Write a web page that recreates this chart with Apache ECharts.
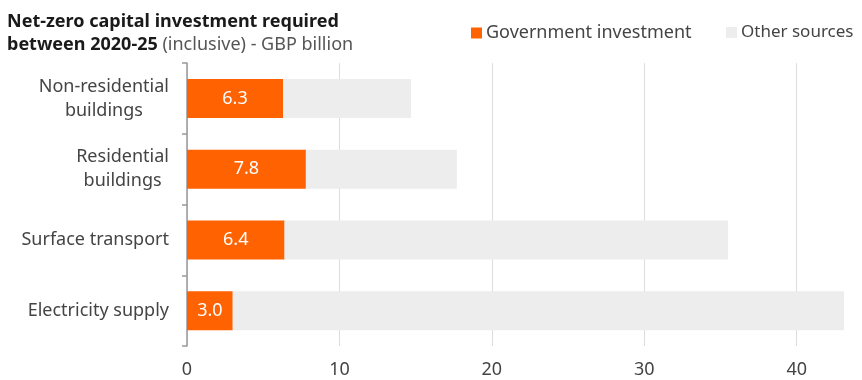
<!DOCTYPE html>
<html>
<head>
<meta charset="utf-8">
<script src="https://cdn.jsdelivr.net/npm/echarts@6/dist/echarts.min.js"></script>
<style>html,body{margin:0;padding:0;background:#fff}#c{width:862px;height:380px}</style>
</head>
<body>
<div id="c"></div>
<script>
const categories = ['Non-residential\nbuildings', 'Residential\nbuildings', 'Surface transport', 'Electricity supply'];
const governmentInvestment = [6.3, 7.8, 6.4, 3.0];
const otherSources = [8.4, 9.9, 29.1, 40.1];
const xTicks = [0, 10, 20, 30, 40];
const seriesNames = ['Government investment', 'Other sources'];

const FONT = '"Noto Sans", sans-serif';
function legendAt(left, name, size) {
  return {
    left: left, top: 19, width: 300, data: [name],
    icon: 'rect', itemWidth: 11, itemHeight: 11,
    textStyle: {fontFamily: FONT, fontSize: size, color: '#444', padding: [0, 0, 0, -1]}
  };
}
const chart = echarts.init(document.getElementById('c'), null, {renderer: 'canvas'});
chart.setOption({
  animation: false,
  textStyle: {fontFamily: FONT},
  title: {
    left: 2, top: 5,
    text: '{b|Net-zero capital investment required}\n{b|between 2020-25} {r|(inclusive) - GBP billion}',
    textStyle: {
      rich: {
        b: {fontFamily: FONT, fontWeight: 'bold', fontSize: 18, color: '#1a1a1a', lineHeight: 23},
        r: {fontFamily: FONT, fontWeight: 'normal', fontSize: 18, color: '#555', lineHeight: 23}
      }
    }
  },
  legend: [
    legendAt(466, seriesNames[0], 18),
    legendAt(721, seriesNames[1], 17)
  ],
  grid: {left: 187, right: 18, top: 63, bottom: 34, containLabel: false},
  xAxis: {
    type: 'value', min: 0, max: 43.1,
    axisLine: {show: false}, axisTick: {show: false},
    axisLabel: {customValues: xTicks, fontSize: 18, color: '#444', margin: 15, fontFamily: FONT},
    splitLine: {show: true, showMaxLine: false, lineStyle: {color: '#dddddd', width: 1}}
  },
  yAxis: {
    type: 'category', inverse: true, data: categories,
    axisLine: {show: true, lineStyle: {color: '#999', width: 1.5}},
    axisTick: {show: true, length: 5, lineStyle: {color: '#999', width: 1.5}},
    axisLabel: {
      margin: 18, color: '#444', fontSize: 18, fontFamily: FONT,
      formatter: function (v) { return v.split('\n').map(s => '{c|' + s + '}').join('\n'); },
      rich: {c: {align: 'center', fontSize: 18, lineHeight: 24, color: '#444', fontFamily: FONT}}
    }
  },
  series: [
    {
      name: seriesNames[0], type: 'bar', stack: 't', barWidth: 39,
      data: governmentInvestment,
      itemStyle: {color: '#FF6200'},
      label: {show: true, position: 'inside', color: '#fff', fontSize: 18, fontFamily: FONT,
        formatter: p => p.value.toFixed(1)}
    },
    {
      name: seriesNames[1], type: 'bar', stack: 't', barWidth: 39,
      data: otherSources,
      itemStyle: {color: '#EDEDED'}
    }
  ]
});
</script>
</body>
</html>
